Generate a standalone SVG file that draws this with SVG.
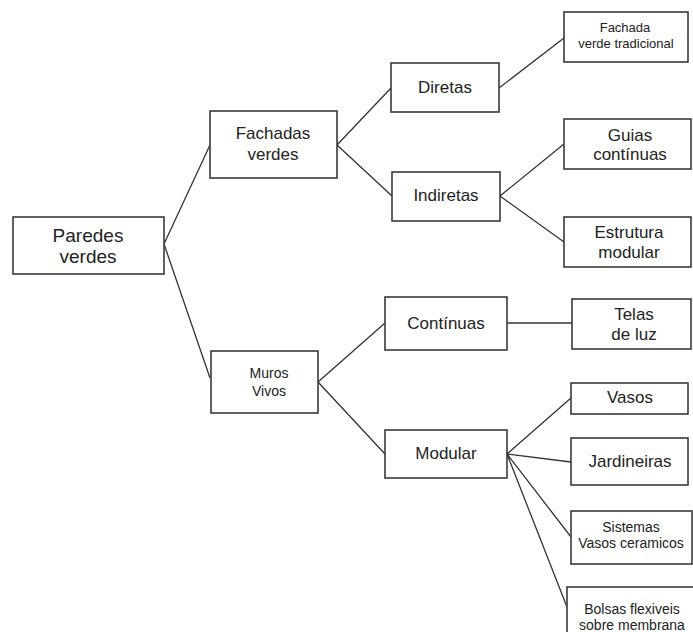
<svg xmlns="http://www.w3.org/2000/svg" width="693" height="632" viewBox="0 0 693 632">
<style>
.b{fill:#fff;stroke:#3a3a3a;stroke-width:1.6}
.c{fill:none;stroke:#333;stroke-width:1.3}
text{font-family:"Liberation Sans",Arial,sans-serif;fill:#222;text-anchor:middle}
.l{font-size:19px}
.m{font-size:17px}
.s{font-size:14px}
.t{font-size:13px}
</style>
<rect width="693" height="632" fill="#fff"/>
<g id="connectors">
<path class="c" d="M164 244L210 145M164 244L210 378"/>
<path class="c" d="M337 145L391 88M337 145L392 196"/>
<path class="c" d="M499 88L564 38"/>
<path class="c" d="M500 196L564 144M500 196L564 242"/>
<path class="c" d="M318 382L385 323M318 382L385 454"/>
<path class="c" d="M507 323L572 323"/>
<path class="c" d="M507 454L571 398M507 454L571 462M507 454L571 537M507 454L567 607"/>
</g>
<g id="paredes"><rect class="b" x="13" y="217" width="151" height="57"/><text class="l" x="88" y="242">Paredes</text><text class="l" x="88" y="263">verdes</text></g>
<g id="fachadas"><rect class="b" x="210" y="111" width="127" height="67"/><text class="m" x="273" y="139">Fachadas</text><text class="m" x="273" y="160">verdes</text></g>
<g id="diretas"><rect class="b" x="391" y="63" width="108" height="49"/><text class="m" x="445" y="93">Diretas</text></g>
<g id="tradicional"><rect class="b" x="564" y="12" width="124" height="50"/><text class="t" x="625" y="32">Fachada</text><text class="t" x="626" y="48">verde tradicional</text></g>
<g id="indiretas"><rect class="b" x="392" y="172" width="108" height="49"/><text class="m" x="446" y="201">Indiretas</text></g>
<g id="guias"><rect class="b" x="564" y="119" width="127" height="50"/><text class="m" x="630" y="141">Guias</text><text class="m" x="630" y="160">contínuas</text></g>
<g id="estrutura"><rect class="b" x="564" y="217" width="127" height="50"/><text class="m" x="629" y="238">Estrutura</text><text class="m" x="629" y="258">modular</text></g>
<g id="muros"><rect class="b" x="211" y="351" width="107" height="62"/><text class="s" x="269" y="378">Muros</text><text class="s" x="269" y="396">Vivos</text></g>
<g id="continuas"><rect class="b" x="385" y="297" width="122" height="53"/><text class="m" x="446" y="329">Contínuas</text></g>
<g id="telas"><rect class="b" x="572" y="299" width="119" height="50"/><text class="m" x="634" y="320">Telas</text><text class="m" x="634" y="340">de luz</text></g>
<g id="modular"><rect class="b" x="385" y="430" width="122" height="48"/><text class="m" x="446" y="459">Modular</text></g>
<g id="vasos"><rect class="b" x="571" y="383" width="117" height="31"/><text class="m" x="630" y="403">Vasos</text></g>
<g id="jardineiras"><rect class="b" x="571" y="438" width="117" height="47"/><text class="m" x="630" y="467">Jardineiras</text></g>
<g id="sistemas"><rect class="b" x="571" y="511" width="121" height="53"/><text class="s" x="631" y="532">Sistemas</text><text class="s" x="631" y="548">Vasos ceramicos</text></g>
<g id="bolsas"><rect class="b" x="567" y="587" width="140" height="60"/><text class="s" x="632" y="614">Bolsas flexiveis</text><text class="s" x="632" y="630">sobre membrana</text></g>
</svg>
